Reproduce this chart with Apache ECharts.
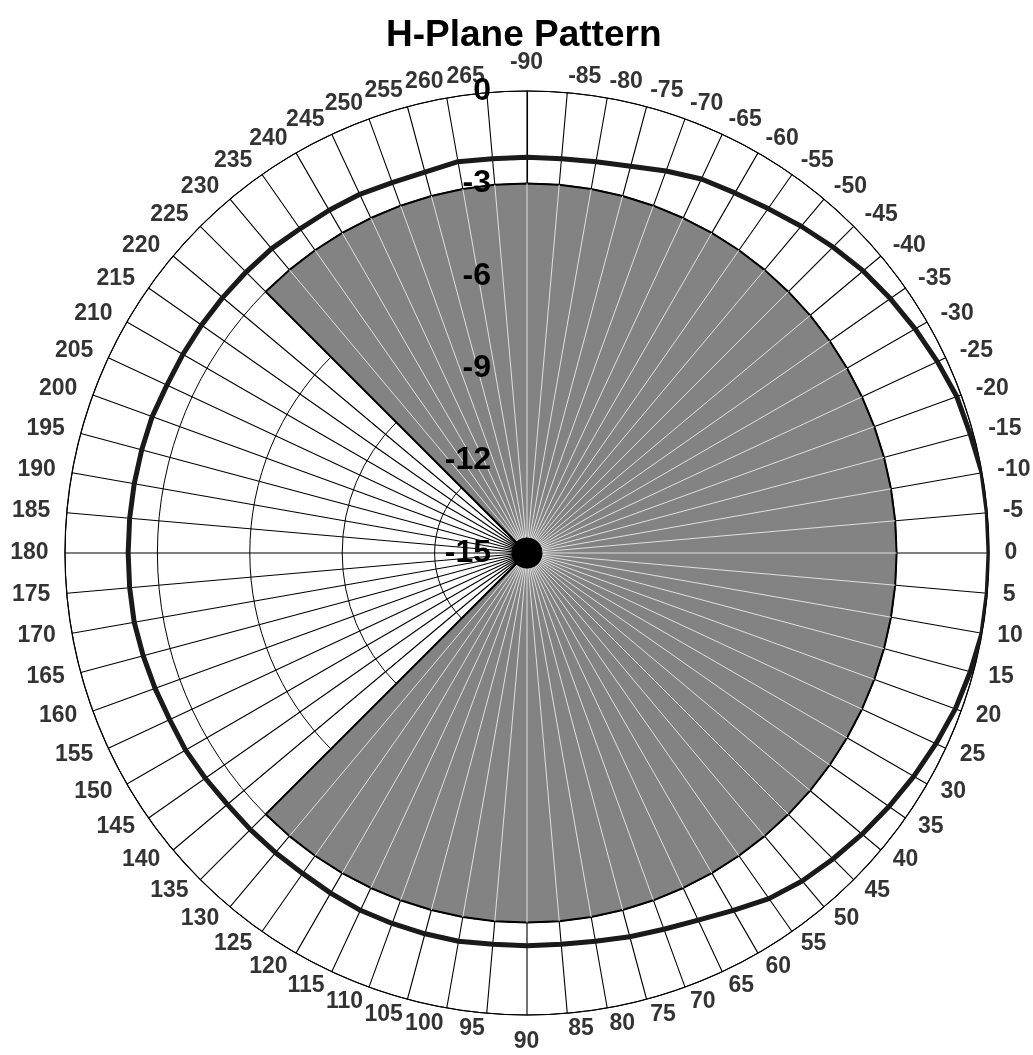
<!DOCTYPE html>
<html>
<head>
<meta charset="utf-8">
<title>H-Plane Pattern</title>
<script src="https://cdn.jsdelivr.net/npm/echarts@6/dist/echarts.min.js"></script>
<style>
  html, body { margin: 0; padding: 0; background: #fff; }
  #main { width: 1033px; height: 1055px; }
</style>
</head>
<body>
<div id="main"></div>
<script>
// angulos del diagrama (grados), empezando arriba y en sentido horario
var patternAngles = [
  -90, -85, -80, -75, -70, -65, -60, -55, -50, -45,
  -40, -35, -30, -25, -20, -15, -10, -5, 0, 5,
  10, 15, 20, 25, 30, 35, 40, 45, 50, 55,
  60, 65, 70, 75, 80, 85, 90, 95, 100, 105,
  110, 115, 120, 125, 130, 135, 140, 145, 150, 155,
  160, 165, 170, 175, 180, 185, 190, 195, 200, 205,
  210, 215, 220, 225, 230, 235, 240, 245, 250, 255,
  260, 265
];
// nivel medido (dB)
var patternDb = [
  -2.15, -2.15, -2.1, -2.0, -1.8, -1.6, -1.5, -1.35, -1.15, -0.95,
  -0.75, -0.6, -0.45, -0.3, -0.15, -0.1, 0, 0, 0, 0,
  0, -0.1, -0.2, -0.35, -0.5, -0.65, -0.8, -0.95, -1.1, -1.3,
  -1.6, -1.85, -2.0, -2.1, -2.2, -2.25, -2.25, -2.25, -2.2, -2.2,
  -2.2, -2.2, -2.25, -2.3, -2.3, -2.3, -2.3, -2.25, -2.2, -2.2,
  -2.15, -2.1, -2.05, -2.05, -2.05, -2.05, -2.05, -2.05, -2.05, -2.1,
  -2.1, -2.1, -2.1, -2.1, -2.1, -2.15, -2.15, -2.15, -2.2, -2.2,
  -2.1, -2.15
];
// zona sombreada (-3 dB)
var shadedAngles = [
  225, 230, 235, 240, 245, 250, 255, 260, 265,
  -90, -85, -80, -75, -70, -65, -60, -55, -50, -45,
  -40, -35, -30, -25, -20, -15, -10, -5, 0, 5,
  10, 15, 20, 25, 30, 35, 40, 45, 50, 55,
  60, 65, 70, 75, 80, 85, 90, 95, 100, 105,
  110, 115, 120, 125, 130, 135
];
var shadedDb = -3;
var radiusTicks = [-15, -12, -9, -6, -3, 0];

var rMin = radiusTicks[0];
var rMax = radiusTicks[radiusTicks.length - 1];
var hubDb = -14.5;        // hasta donde llegan los radios negros sobre el gris
var font = 'Liberation Sans';
var cx = 527, cy = 553, R = 462;

var patternData = patternAngles.map(function (a, i) { return [patternDb[i], a]; });
patternData.push([patternDb[0], patternAngles[0] + 360]);

var shadedData = [[rMin, shadedAngles[0]]];
shadedAngles.forEach(function (a) { shadedData.push([shadedDb, a]); });
shadedData.push([rMin, shadedAngles[shadedAngles.length - 1]]);

// radios claros dentro del gris
var spokeData = [];
shadedAngles.slice(1, -1).forEach(function (a) {
  spokeData.push([hubDb, a], [shadedDb, a], ['-', '-']);
});
// radios negros cerca del centro
var hubData = [];
patternAngles.forEach(function (a) {
  hubData.push([rMin, a], [hubDb, a], ['-', '-']);
});

// etiquetas de angulo (a la manera de Excel: a izquierda/derecha y centradas en vertical)
var angleLabelData = patternAngles.map(function (a) {
  var align = 'left', vAlign = 'middle';
  if (a === -90) { align = 'center'; vAlign = 'bottom'; }
  else if (a === 90) { align = 'center'; vAlign = 'top'; }
  else if (a > 90) { align = 'right'; }
  return {
    value: [rMax, a],
    label: { align: align, verticalAlign: vAlign }
  };
});

var chartDom = document.getElementById('main');
var myChart = echarts.init(chartDom);
var option;

option = {
  animation: false,
  backgroundColor: '#fff',
  title: {
    text: 'H-Plane Pattern',
    left: 381,
    top: 12,
    textStyle: { fontFamily: font, fontSize: 37, fontWeight: 'bold', color: '#000' }
  },
  polar: [
    { center: [cx, cy], radius: R },
    { center: [cx, cy], radius: R },
    { center: [cx, cy], radius: R + 16 }
  ],
  angleAxis: [
    {
      polarIndex: 0,
      type: 'value',
      min: -90,
      max: 270,
      interval: 5,
      startAngle: 90,
      clockwise: true,
      axisLine: { lineStyle: { color: '#000', width: 1.2 } },
      axisTick: { show: false },
      axisLabel: { show: false },
      splitLine: { lineStyle: { color: '#000', width: 1.1 } }
    },
    { polarIndex: 1, type: 'value', min: -90, max: 270, startAngle: 90, show: false },
    { polarIndex: 2, type: 'value', min: -90, max: 270, startAngle: 90, show: false }
  ],
  radiusAxis: [
    {
      polarIndex: 0,
      type: 'value',
      min: rMin,
      max: rMax,
      interval: 3,
      axisLine: { lineStyle: { color: '#000', width: 1.1 } },
      axisTick: { show: false },
      axisLabel: { show: false },
      splitLine: { lineStyle: { color: '#000', width: 1 } }
    },
    {
      polarIndex: 1,
      type: 'value',
      min: rMin,
      max: rMax,
      interval: 3,
      z: 10,
      axisLine: { show: false },
      axisTick: { show: false },
      splitLine: { show: false },
      axisLabel: {
        margin: 36,
        fontFamily: font,
        fontSize: 32,
        fontWeight: 'bold',
        color: '#000'
      }
    },
    { polarIndex: 2, type: 'value', min: rMin, max: rMax, show: false }
  ],
  series: [
    {
      name: 'sombreado',
      type: 'line',
      coordinateSystem: 'polar',
      polarIndex: 0,
      data: shadedData,
      symbol: 'none',
      lineStyle: { color: '#000', width: 2 },
      areaStyle: { origin: 'start', color: '#838383', opacity: 1 }
    },
    {
      name: 'radios',
      type: 'line',
      coordinateSystem: 'polar',
      polarIndex: 0,
      data: spokeData,
      symbol: 'none',
      lineStyle: { color: '#e0e0e0', width: 1 }
    },
    {
      name: 'centro',
      type: 'line',
      coordinateSystem: 'polar',
      polarIndex: 0,
      data: hubData,
      symbol: 'none',
      lineStyle: { color: '#000', width: 1.4 }
    },
    {
      name: 'patron',
      type: 'line',
      coordinateSystem: 'polar',
      polarIndex: 0,
      data: patternData,
      symbol: 'none',
      lineStyle: { color: '#1a1a1a', width: 5 }
    },
    {
      name: 'angulos',
      type: 'scatter',
      coordinateSystem: 'polar',
      polarIndex: 2,
      clip: false,
      silent: true,
      symbolSize: 1,
      itemStyle: { color: 'rgba(0,0,0,0)' },
      data: angleLabelData,
      label: {
        show: true,
        position: [0, 0],
        formatter: function (p) { return String(p.value[1]); },
        fontFamily: font,
        fontSize: 23,
        fontWeight: 'bold',
        color: '#000'
      }
    }
  ]
};

option && myChart.setOption(option);
</script>
</body>
</html>
